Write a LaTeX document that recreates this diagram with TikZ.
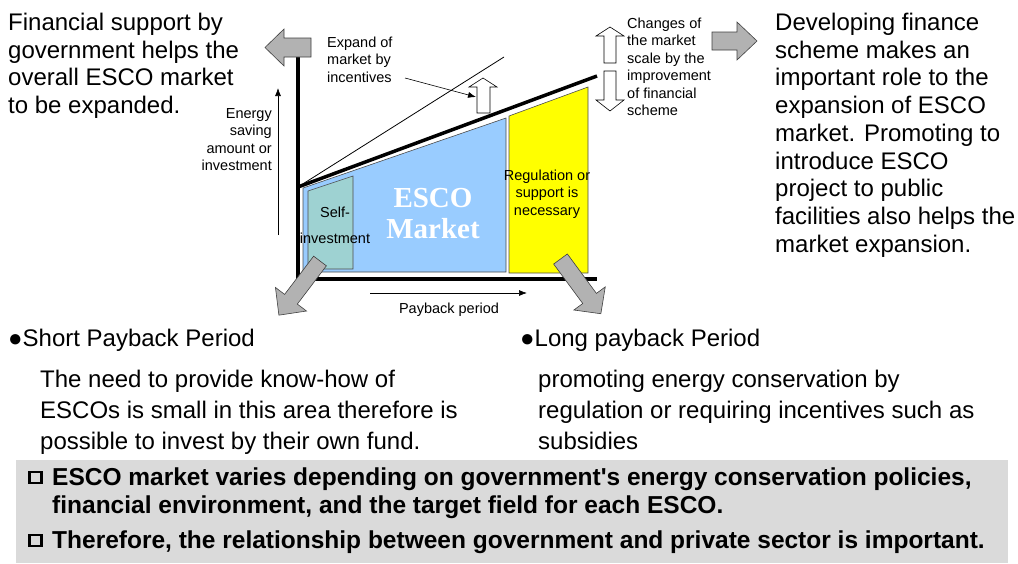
\documentclass[tikz,border=0pt]{standalone}
\usepackage{fontspec}
\setmainfont{Liberation Sans}
\newfontfamily\serifbold{Liberation Serif}
\newfontfamily\nomapsans[Ligatures=TeXOff]{Liberation Sans}
\usetikzlibrary{arrows.meta}
\definecolor{arrowgray}{RGB}{178,178,178}
\definecolor{escoblue}{RGB}{153,204,255}
\definecolor{selfteal}{RGB}{158,210,210}
\definecolor{regyellow}{RGB}{255,255,0}
\definecolor{bandgray}{RGB}{218,218,218}
\begin{document}
\begin{tikzpicture}[x=1pt,y=-1pt,
  blockarrow/.style={fill=arrowgray,draw=black!75,line width=0.6pt,line join=miter},
  hollowarrow/.style={fill=white,draw=black,line width=0.6pt,line join=miter},
  region/.style={draw=black!70,line width=0.6pt},
  bigtext/.style={font=\fontsize{24}{27.7}\selectfont,align=left,inner sep=0pt},
  smalltext/.style={font=\fontsize{14.5}{17.5}\selectfont,inner sep=0pt},
  bodytext/.style={font=\fontsize{24}{31}\selectfont,align=left,inner sep=0pt},
  bandtext/.style={font=\bfseries\fontsize{24.5}{28}\selectfont,align=left,inner sep=0pt},
  thinarrow/.style={-{Latex[length=8pt,width=6pt]},line width=0.7pt},
  axisline/.style={line width=3.5pt}
]
\useasboundingbox (0,0) rectangle (1018,563);

% grey band
\fill[bandgray] (16,460) rectangle (1008,563);

% regions
\fill[escoblue] (303,188) -- (506,118) -- (506,272) -- (303,272) -- cycle;
\draw[region] (303,188) -- (506,118) -- (506,272) -- (303,272) -- cycle;
\filldraw[region,fill=selfteal] (308,191) -- (353,176) -- (353,269) -- (308,269) -- cycle;
\filldraw[region,fill=regyellow] (509,116) -- (588,87) -- (588,273) -- (509,273) -- cycle;

% axes
\coordinate (ytop) at (298,57);
\coordinate (O) at (298,279);
\coordinate (xend) at (597,279);
\draw[axisline] (ytop) -- (O) -- (xend);
\coordinate (mstart) at (298,187);
\coordinate (mend) at (597,76);
\coordinate (tend) at (504,57);
\draw[line width=3.5pt] (mstart) -- (mend);
\draw[line width=0.8pt] (mstart) -- (tend);

% energy axis arrow
\coordinate (ebot) at (278,235);
\coordinate (etop) at (278,88);
\draw[thinarrow] (ebot) -- (etop);
\node[smalltext,align=right,anchor=base east] (energy) at (272,170.5) {Energy\\saving\\amount or\\investment};

% payback arrow
\coordinate (pstart) at (370,293);
\coordinate (pend) at (527,293);
\draw[thinarrow] (pstart) -- (pend);
\node[smalltext,anchor=base] (payback) at (449,313) {Payback period};

% texts in regions
\node[font=\serifbold\bfseries\fontsize{29}{31}\selectfont,text=white,align=center,anchor=base,inner sep=0pt] (esco) at (433,238) {ESCO\\Market};
\node[smalltext,font=\fontsize{14.5}{26}\selectfont,align=center,anchor=base] (self) at (335,243) {Self-\\investment};
\node[smalltext,align=center,anchor=base] (reg) at (547,215) {Regulation or\\support is\\necessary};

% top left grey arrow
\draw[blockarrow] (265,47.5) -- (284,29) -- (284,38) -- (311,38) -- (311,57) -- (284,57) -- (284,66) -- cycle;
% top right grey arrow
\draw[blockarrow] (757,41) -- (737,22) -- (737,32) -- (712,32) -- (712,50) -- (737,50) -- (737,60) -- cycle;

% incentives hollow arrow
\draw[hollowarrow] (483,78) -- (497,87) -- (490,87) -- (490,113) -- (477,113) -- (477,87) -- (469,87) -- cycle;
\coordinate (incarrow) at (476,97);
\node[smalltext,align=left,anchor=base west] (expand) at (327,82) {Expand of\\market by\\incentives};
\coordinate (expfrom) at (405,78);
\draw[thinarrow,line width=0.6pt] (expfrom) -- (incarrow);

% double arrows (changes of market scale)
\draw[hollowarrow] (610,27) -- (624,36) -- (616,36) -- (616,63) -- (604,63) -- (604,36) -- (596,36) -- cycle;
\draw[hollowarrow] (610,111) -- (624,100) -- (616,100) -- (616,71) -- (604,71) -- (604,100) -- (596,100) -- cycle;
\node[smalltext,align=left,anchor=base west] (changes) at (627,115.5) {Changes of\\the market\\scale by the\\improvement\\of financial\\scheme};

% big texts
\node[bigtext,anchor=base west] (lefttext) at (8,113.6) {Financial support by\\government helps the\\overall ESCO market\\to be expanded.};
\node[bigtext,anchor=base west] (righttext) at (775,252.1) {Developing finance\\scheme makes an\\important role to the\\expansion of ESCO\\market. Promoting to\\introduce ESCO\\project to public\\facilities also helps the\\market expansion.};

% bottom grey arrows
\begin{scope}[shift={(320,261)},rotate=-127.2]
\draw[blockarrow] (0,-8) -- (48,-8) -- (48,-19.5) -- (68,0) -- (48,19.5) -- (48,8) -- (0,8) -- cycle;
\end{scope}
\begin{scope}[shift={(560.5,259)},rotate=-53.6]
\draw[blockarrow] (0,-8.5) -- (49,-8.5) -- (49,-19.5) -- (68,0) -- (49,19.5) -- (49,8.5) -- (0,8.5) -- cycle;
\end{scope}

% bullets
\node[bodytext,anchor=base west] (short) at (8,346) {●Short Payback Period};
\node[bodytext,anchor=base west] (long) at (520,346) {●Long payback Period};
\node[bodytext,anchor=base west] (shortdesc) at (40,449) {The need to provide know-how of\\ESCOs is small in this area therefore is\\possible to invest by their own fund.};
\node[bodytext,anchor=base west] (longdesc) at (538,449) {promoting energy conservation by\\regulation or requiring incentives such as\\subsidies};

% band
\draw[line width=2.4pt] (29.5,472) rectangle (41.5,483);
\draw[line width=2.4pt] (29.5,535) rectangle (41.5,546);
\node[bandtext,anchor=base west] (band1) at (52,513) {ESCO market varies depending on government{\nomapsans\bfseries '}s energy conservation policies,\\financial environment, and the target field for each ESCO.};
\node[bandtext,anchor=base west] (band2) at (52,548) {Therefore, the relationship between government and private sector is important.};
\end{tikzpicture}
\end{document}
